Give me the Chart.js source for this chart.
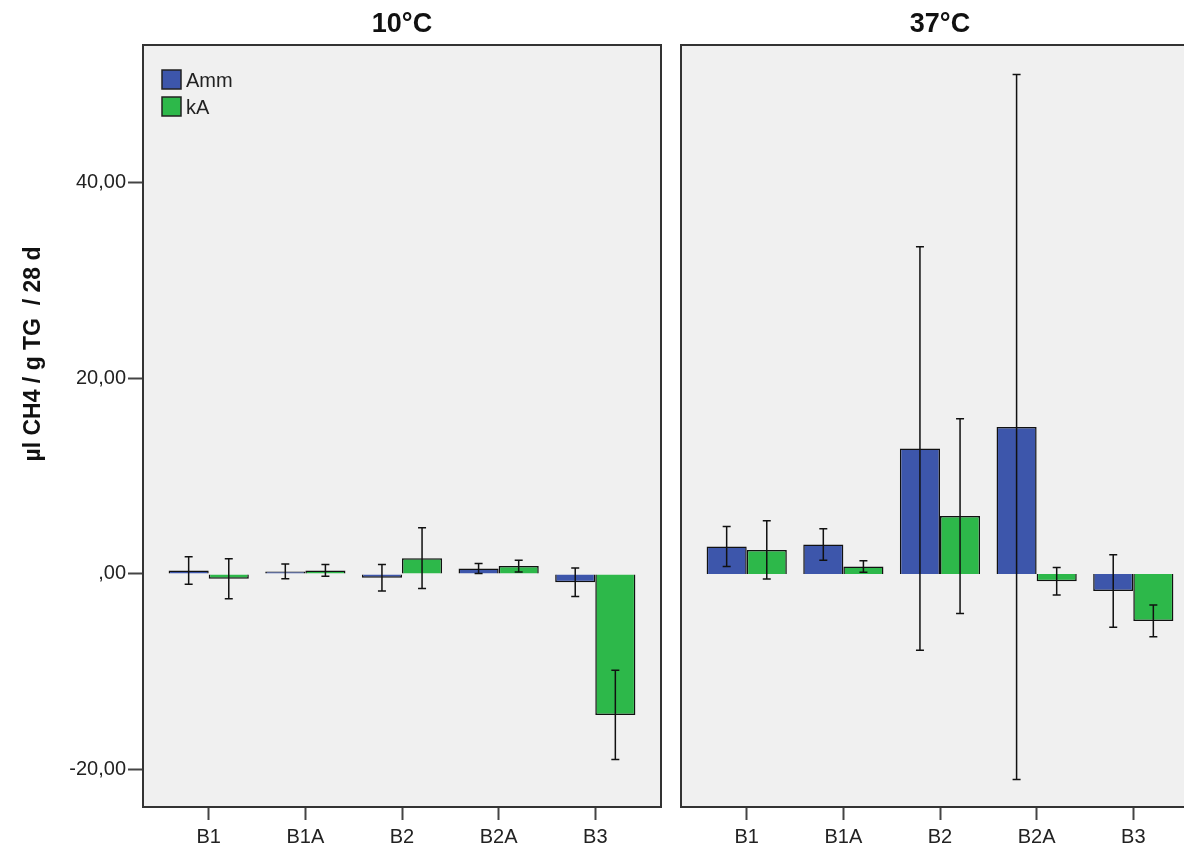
<!DOCTYPE html>
<html>
<head>
<meta charset="utf-8">
<script src="https://cdn.jsdelivr.net/npm/chart.js@4.4.1/dist/chart.umd.min.js"></script>
<style>
  body { margin: 0; background: #fff; overflow: hidden; width: 1184px; height: 848px; position: relative; }
  #left { position: absolute; left: 0; top: 0; }
  #right { position: absolute; left: 671px; top: 0; }
</style>
</head>
<body>
<canvas id="left" width="671" height="848"></canvas>
<canvas id="right" width="540" height="848"></canvas>
<script>
// groups on the x axis and tick values on the y axis
var categories = ["B1", "B1A", "B2", "B2A", "B3"];
var yTicks = [-20, 0, 20, 40];

// 10 °C: means and error bar half-widths
var amm10 = [0.35, 0.25, -0.4, 0.55, -0.85];
var amm10Err = [1.4, 0.75, 1.35, 0.5, 1.45];
var kA10 = [-0.5, 0.35, 1.6, 0.8, -14.4];
var kA10Err = [2.05, 0.6, 3.1, 0.6, 4.55];

// 37 °C
var amm37 = [2.8, 3.0, 12.8, 15.0, -1.75];
var amm37Err = [2.05, 1.6, 20.6, 36.0, 3.7];
var kA37 = [2.45, 0.75, 5.9, -0.75, -4.8];
var kA37Err = [2.97, 0.58, 9.95, 1.4, 1.63];

var FONT = "'Liberation Sans', Arial, sans-serif";
var BLUE = "#3d56ab";
var GREEN = "#2db84a";

function points(values) {
	return values.map(function (v, i) { return { x: i, y: v }; });
}

function fmt(v) {
	if (v === 0) return ",00";
	return v.toFixed(2).replace(".", ",");
}

// panel background, frame, title, legend and error bars
var panelPlugin = {
	id: "panel",
	beforeDraw: function (chart) {
		var ctx = chart.ctx, a = chart.chartArea;
		ctx.save();
		ctx.fillStyle = "#f0f0f0";
		ctx.fillRect(a.left, a.top, a.right - a.left, a.bottom - a.top);
		ctx.restore();
	},
	afterDatasetsDraw: function (chart) {
		var ctx = chart.ctx, y = chart.scales.y;
		ctx.save();
		ctx.strokeStyle = "#111";
		ctx.lineWidth = 1.5;
		chart.data.datasets.forEach(function (ds, d) {
			var meta = chart.getDatasetMeta(d);
			meta.data.forEach(function (bar, i) {
				var v = ds.data[i].y, e = ds.errors[i];
				var yt = y.getPixelForValue(v + e), yb = y.getPixelForValue(v - e);
				ctx.beginPath();
				ctx.moveTo(bar.x, yt); ctx.lineTo(bar.x, yb);
				ctx.moveTo(bar.x - 4, yt); ctx.lineTo(bar.x + 4, yt);
				ctx.moveTo(bar.x - 4, yb); ctx.lineTo(bar.x + 4, yb);
				ctx.stroke();
			});
		});
		ctx.restore();
	},
	afterDraw: function (chart, args, opts) {
		var ctx = chart.ctx, a = chart.chartArea;
		ctx.save();
		ctx.strokeStyle = "#333";
		ctx.lineWidth = 2;
		ctx.strokeRect(a.left, a.top, a.right - a.left, a.bottom - a.top);

		ctx.fillStyle = "#111";
		ctx.font = "bold 27px " + FONT;
		ctx.textAlign = "center";
		ctx.textBaseline = "middle";
		ctx.fillText(opts.title, (a.left + a.right) / 2, 25);

		if (opts.legend) {
			chart.data.datasets.forEach(function (ds, d) {
				var top = 70 + d * 27;
				ctx.fillStyle = ds.backgroundColor;
				ctx.fillRect(a.left + 19, top, 19, 19);
				ctx.lineWidth = 1.5;
				ctx.strokeStyle = "#222";
				ctx.strokeRect(a.left + 19, top, 19, 19);
				ctx.fillStyle = "#222";
				ctx.font = "20px " + FONT;
				ctx.textAlign = "left";
				ctx.fillText(ds.label, a.left + 43, top + 11);
			});
		}

		if (opts.yTitle) {
			ctx.translate(34, 354);
			ctx.rotate(-Math.PI / 2);
			ctx.fillStyle = "#111";
			ctx.font = "bold 23px " + FONT;
			ctx.textAlign = "center";
			ctx.fillText(opts.yTitle, 0, 0);
		}
		ctx.restore();
	}
};

function makeChart(id, amm, ammErr, kA, kAErr, title, showY, padding) {
	return new Chart(document.getElementById(id), {
		type: "bar",
		data: {
			datasets: [
				{ label: "Amm", data: points(amm), errors: ammErr, backgroundColor: BLUE, borderColor: "#111", borderWidth: 1.5 },
				{ label: "kA", data: points(kA), errors: kAErr, backgroundColor: GREEN, borderColor: "#111", borderWidth: 1.5 }
			]
		},
		options: {
			responsive: false,
			animation: false,
			devicePixelRatio: 1,
			layout: { padding: padding },
			datasets: { bar: { categoryPercentage: 0.83, barPercentage: 1.0 } },
			plugins: {
				legend: { display: false },
				tooltip: { enabled: false },
				panel: { title: title, legend: showY, yTitle: showY ? "\u00b5l CH4 / g TG  / 28 d" : null }
			},
			scales: {
				x: {
					type: "linear",
					offset: false,
					min: -0.68,
					max: 4.68,
					afterBuildTicks: function (s) {
						s.ticks = categories.map(function (c, i) { return { value: i }; });
					},
					afterFit: function (s) { s.height = 41; },
					border: { display: false },
					grid: { offset: false, drawOnChartArea: false, tickLength: 13, tickColor: "#444", tickWidth: 2 },
					ticks: {
						autoSkip: false, maxRotation: 0, padding: 5, color: "#222",
						font: { family: FONT, size: 20 },
						callback: function (v) { return categories[v]; }
					}
				},
				y: {
					display: showY,
					min: -23.8,
					max: 54,
					afterBuildTicks: function (s) {
						s.ticks = yTicks.map(function (v) { return { value: v }; });
					},
					afterFit: function (s) { if (showY) s.width = 143; },
					border: { display: false },
					grid: { drawOnChartArea: false, tickLength: 15, tickColor: "#444", tickWidth: 2 },
					ticks: {
						padding: 2, color: "#222",
						font: { family: FONT, size: 20 },
						callback: function (v) { return fmt(v); }
					}
				}
			}
		},
		plugins: [panelPlugin]
	});
}

makeChart("left", amm10, amm10Err, kA10, kA10Err, "10\u00b0C", true, { top: 45, right: 10, left: 0, bottom: 0 });
makeChart("right", amm37, amm37Err, kA37, kA37Err, "37\u00b0C", false, { top: 45, right: 12, left: 10, bottom: 0 });
</script>
</body>
</html>
